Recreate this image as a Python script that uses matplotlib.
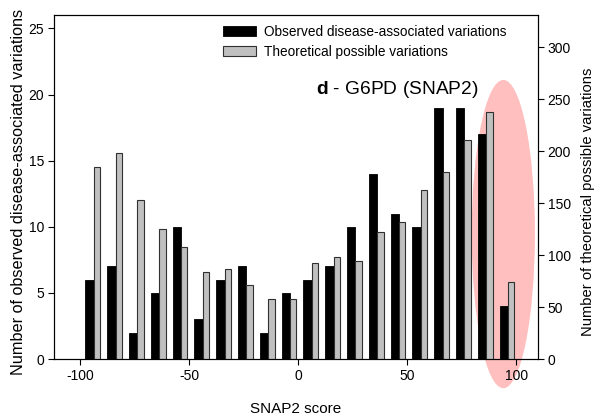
import matplotlib
matplotlib.use("Agg")
import matplotlib.pyplot as plt
from matplotlib.patches import Ellipse, Patch

plt.rcParams['font.family'] = ['Liberation Sans', 'DejaVu Sans']
plt.rcParams['mathtext.fontset'] = 'custom'
plt.rcParams['mathtext.rm'] = 'Liberation Sans'
plt.rcParams['mathtext.bf'] = 'Liberation Sans:bold'
plt.rcParams['axes.unicode_minus'] = False

# bin centres of the SNAP2 score histogram
bin_centers = [-95, -85, -75, -65, -55, -45, -35, -25, -15, -5,
               5, 15, 25, 35, 45, 55, 65, 75, 85, 95]
observed = [6, 7, 2, 5, 10, 3, 6, 7, 2, 5,
            6, 7, 10, 14, 11, 10, 19, 19, 17, 4]
theoretical = [185, 198, 153, 125, 108, 84, 87, 71, 58, 58,
               92, 98, 94, 122, 132, 163, 180, 211, 238, 74]

left_ticks = [0, 5, 10, 15, 20, 25]
right_ticks = [0, 50, 100, 150, 200, 250, 300]
x_ticks = [-100, -50, 0, 50, 100]

fig = plt.figure(figsize=(5.95, 4.2), dpi=100)
ax = fig.add_axes([0.0908, 0.145, 0.8134, 0.819])
ax2 = ax.twinx()

# highlight of the most damaging scores
ell = Ellipse((94.1, 9.45), 29, 23.3, facecolor='#ffbfbf', edgecolor='none',
              clip_on=False, zorder=0)
ax.add_patch(ell)

ax.bar([c - 0.7 for c in bin_centers], observed, width=3.8, color='black',
       edgecolor='black', linewidth=0.6, zorder=2)
ax2.bar([c + 2.7 for c in bin_centers], theoretical, width=3.0,
        color='#c0c0c0', edgecolor='#303030', linewidth=0.8, zorder=2)

ax.set_xlim(-112, 110)
ax.set_ylim(0, 26)
ax2.set_ylim(0, 331)
ax.set_xticks(x_ticks)
ax.set_yticks(left_ticks)
ax2.set_yticks(right_ticks)

for a in (ax, ax2):
    a.tick_params(direction='out', length=4, width=0.8, labelsize=10, pad=3)
    for s in a.spines.values():
        s.set_linewidth(0.8)

ax.set_xlabel("SNAP2 score", fontsize=11, labelpad=14)
ax.set_ylabel("Number of observed disease-associated variations",
              fontsize=11.7, labelpad=2)
ax.yaxis.label.set_y(0.485)
ax2.set_ylabel("Number of theoretical possible variations",
               fontsize=10.6, labelpad=7)
ax2.yaxis.label.set_y(0.456)

handles = [Patch(facecolor='black', edgecolor='black', linewidth=0.6),
           Patch(facecolor='#c0c0c0', edgecolor='#303030', linewidth=0.8)]
ax2.legend(handles, ["Observed disease-associated variations",
                     "Theoretical possible variations"],
           loc='upper left', bbox_to_anchor=(223 / 595, 1 - 25 / 420),
           bbox_transform=fig.transFigure, frameon=False, fontsize=9.8,
           handlelength=2.4, handleheight=0.75, handletextpad=0.6,
           labelspacing=0.45, borderpad=0, borderaxespad=0)

fig.text(316 / 595, 1 - 90 / 420, r"$\bf{d}$ - G6PD (SNAP2)", fontsize=13.8,
         ha='left', va='center')

fig.savefig("out.png", dpi=100)
